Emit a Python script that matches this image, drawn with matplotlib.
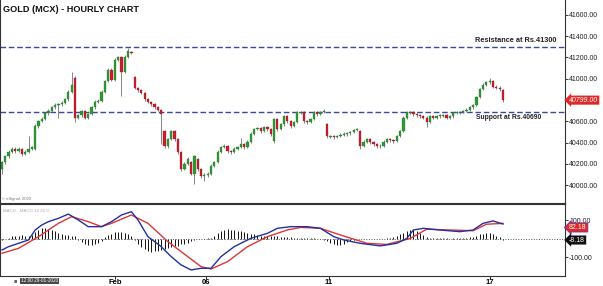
import matplotlib
matplotlib.use("Agg")
import matplotlib.pyplot as plt
import numpy as np

plt.rcParams['font.family'] = ['Liberation Sans', 'DejaVu Sans']

# hourly candles (Rs.)
opens = [40150, 40215, 40270, 40310, 40340, 40320, 40340, 40290, 40310, 40340,
         40340, 40555, 40600, 40620, 40675, 40700, 40730, 40750, 40760, 40775,
         40805, 40880, 41010, 40635, 40655, 40695, 40635, 40665, 40730, 40785,
         40795, 40880, 40975, 41085, 40990, 41180, 41200, 41065, 41205, 41255,
         41020, 40915, 40890, 40870, 40805, 40785, 40760, 40730, 40710, 40505,
         40365, 40430, 40505, 40430, 40310, 40150, 40200, 40215, 40105, 40245,
         40150, 40085, 40095, 40105, 40180, 40215, 40310, 40355, 40365, 40320,
         40310, 40340, 40355, 40385, 40355, 40405, 40480, 40525, 40535, 40505,
         40545, 40525, 40415, 40620, 40525, 40570, 40645, 40600, 40555, 40590,
         40680, 40685, 40600, 40590, 40620, 40685, 40665, 40685, 40570, 40455,
         40460, 40450, 40460, 40470, 40480, 40485, 40495, 40515, 40505, 40365,
         40405, 40430, 40405, 40385, 40370, 40365, 40405, 40430, 40420, 40415,
         40460, 40505, 40635, 40680, 40685, 40665, 40655, 40645, 40635, 40590,
         40645, 40635, 40645, 40650, 40655, 40635, 40645, 40675, 40680, 40685,
         40695, 40710, 40730, 40750, 40825, 40900, 40945, 40965, 40975, 40925,
         40915, 40890]
closes = [40215, 40270, 40310, 40340, 40320, 40340, 40290, 40310, 40340, 40355,
          40555, 40600, 40620, 40675, 40700, 40730, 40750, 40760, 40775, 40805,
          40880, 40945, 40635, 40655, 40695, 40635, 40665, 40730, 40785, 40795,
          40880, 40975, 41085, 40990, 41180, 41200, 41065, 41205, 41265, 41245,
          40915, 40890, 40870, 40805, 40785, 40760, 40730, 40710, 40665, 40365,
          40430, 40505, 40430, 40310, 40150, 40200, 40245, 40105, 40270, 40150,
          40085, 40095, 40105, 40180, 40215, 40310, 40355, 40365, 40320, 40310,
          40340, 40355, 40385, 40355, 40405, 40480, 40525, 40535, 40505, 40545,
          40525, 40480, 40620, 40525, 40570, 40645, 40600, 40555, 40590, 40685,
          40685, 40600, 40590, 40620, 40685, 40665, 40685, 40700, 40460, 40460,
          40450, 40460, 40470, 40480, 40485, 40495, 40515, 40525, 40365, 40405,
          40430, 40405, 40385, 40365, 40365, 40405, 40430, 40420, 40415, 40460,
          40505, 40635, 40685, 40685, 40665, 40655, 40645, 40635, 40590, 40645,
          40635, 40645, 40655, 40655, 40635, 40645, 40675, 40685, 40685, 40695,
          40710, 40730, 40750, 40825, 40900, 40945, 40965, 40975, 40925, 40915,
          40900, 40799]
highs = [40230, 40285, 40325, 40360, 40355, 40355, 40350, 40325, 40460, 40370,
         40570, 40615, 40640, 40690, 40715, 40745, 40770, 40775, 40790, 40820,
         40895, 41065, 41025, 40670, 40710, 40705, 40680, 40745, 40800, 40810,
         40895, 40990, 41100, 41100, 41195, 41215, 41210, 41220, 41290, 41265,
         41030, 40925, 40900, 40880, 40815, 40795, 40770, 40740, 40720, 40520,
         40445, 40520, 40515, 40440, 40320, 40215, 40260, 40230, 40285, 40255,
         40160, 40110, 40120, 40195, 40230, 40325, 40370, 40385, 40375, 40330,
         40355, 40370, 40440, 40395, 40420, 40495, 40540, 40550, 40545, 40560,
         40560, 40535, 40635, 40630, 40585, 40660, 40655, 40610, 40605, 40700,
         40700, 40695, 40615, 40635, 40700, 40695, 40700, 40715, 40580, 40475,
         40470, 40475, 40485, 40495, 40500, 40510, 40530, 40540, 40515, 40420,
         40445, 40440, 40415, 40395, 40385, 40420, 40445, 40440, 40430, 40475,
         40520, 40650, 40700, 40700, 40695, 40675, 40665, 40655, 40645, 40660,
         40655, 40660, 40670, 40670, 40665, 40660, 40690, 40700, 40700, 40710,
         40725, 40745, 40765, 40840, 40915, 40960, 40980, 41010, 40985, 40940,
         40930, 40900]
lows = [40100, 40200, 40255, 40300, 40305, 40310, 40275, 40280, 40300, 40325,
        40330, 40540, 40590, 40610, 40660, 40690, 40720, 40635, 40745, 40765,
        40795, 40870, 40590, 40620, 40640, 40620, 40625, 40655, 40720, 40770,
        40785, 40865, 40965, 40975, 40980, 41165, 40835, 41055, 41195, 41235,
        40900, 40875, 40855, 40790, 40770, 40745, 40715, 40695, 40385, 40350,
        40350, 40420, 40415, 40295, 40135, 40140, 40190, 40090, 40010, 40135,
        40070, 40040, 40080, 40095, 40170, 40205, 40300, 40345, 40300, 40295,
        40300, 40330, 40345, 40340, 40345, 40395, 40470, 40515, 40490, 40495,
        40510, 40465, 40400, 40510, 40515, 40560, 40585, 40540, 40545, 40580,
        40665, 40585, 40575, 40580, 40610, 40650, 40655, 40675, 40440, 40440,
        40430, 40440, 40450, 40460, 40465, 40475, 40485, 40505, 40340, 40355,
        40395, 40390, 40370, 40350, 40350, 40355, 40395, 40405, 40400, 40405,
        40450, 40495, 40625, 40665, 40650, 40640, 40630, 40620, 40545, 40580,
        40620, 40625, 40635, 40640, 40620, 40625, 40635, 40665, 40670, 40675,
        40685, 40700, 40720, 40740, 40815, 40890, 40935, 40955, 40910, 40900,
        40885, 40785]

resistance = 41300
support = 40690
last_price = "40799.00"

# MACD lines, sampled at candle positions
macd_idx = [0, 2, 5, 8, 10, 12, 14, 17, 20, 23, 26, 30, 33, 36, 39, 41, 44, 48,
            51, 54, 57, 60, 63, 66, 70, 75, 80, 83, 87, 92, 96, 100, 103, 108,
            114, 119, 122, 124, 127, 132, 138, 142, 145, 148, 151]
macd_val = [-62, -44, -26, -8, 46, 73, 91, 109, 132, 100, 64, 64, 91, 127, 145,
            100, 10, -44, -98, -143, -170, -161, -161, -98, -44, 1, 28, 55, 64,
            64, 55, 10, -8, -26, -40, -26, 0, 46, 55, 46, 37, 46, 82, 95, 78]
signal_idx = [0, 5, 11, 17, 21, 26, 30, 33, 39, 44, 50, 56, 60, 63, 68, 74, 80,
              86, 90, 96, 102, 110, 116, 123, 128, 135, 142, 146, 151]
signal_val = [-80, -53, 10, 82, 118, 91, 64, 82, 127, 82, -17, -98, -152, -165,
              -125, -44, 10, 46, 60, 55, 19, -26, -32, 0, 50, 46, 42, 77, 82]
hist = [-10, -5, 5,
        12, 15, 16, 17, 16, 15, 18,
        35, 48, 55, 57, 52, 45, 38, 30, 25, 20,
        18, 15, 12,
        -10, -20, -28, -33, -35, -30, -22, -12,
        8, 18, 27, 33, 37, 35, 30, 22, 15,
        -10, -30, -45, -58, -66, -71, -70, -66, -60, -55, -50, -45, -42, -38,
        -32, -28, -22, -16, -10, -5, -3,
        -2, 2, 5,
        15, 28, 40, 48, 50, 48, 45, 42, 38, 34, 30, 26, 22, 18, 15,
        14, 12, 12, 14, 12, 10, 8, 7, 6, 5, 5, 4, 3, 3, 2, 2, 0, -3, -8,
        -15, -25, -32, -35, -33, -28, -20, -12,
        -6, -4, -5, -4, -3, -3, -2, -2, -1, 0, 2, 5,
        8, 14, 22, 32, 40, 45, 46, 40, 30, 18, 8,
        4, 3, 2, 2, 1, 1, 0, 1, 1, 2, 3, 4,
        6, 10, 16, 22, 27, 30, 28, 24, 16, 10, -8]
macd_last = "82.18"
hist_last = "-8.18"

day_labels = ["Feb", "06", "11", "17"]
day_pos = [34, 61.5, 98.5, 147]   # candle index where each session starts

o = np.array(opens); c = np.array(closes)
h = np.array(highs); l = np.array(lows)
x = np.arange(len(o))
up = c >= o

fig = plt.figure(figsize=(6.03, 2.86), dpi=100)
ax = fig.add_axes([0.0, 1 - 203 / 286, 565 / 603, 203 / 286])
am = fig.add_axes([0.0, 10 / 286, 565 / 603, 72 / 286], sharex=ax)

green = "#2f9a35"
red = "#c8202c"

ax.vlines(x, l, h, color="#707070", lw=0.6, zorder=2)
body = np.maximum(np.abs(c - o), 6)
ax.bar(x[up], body[up], bottom=np.minimum(o, c)[up], width=0.68,
       color=green, edgecolor="#1f6a25", lw=0.2, zorder=3)
ax.bar(x[~up], body[~up], bottom=np.minimum(o, c)[~up], width=0.68,
       color=red, edgecolor="#8a1018", lw=0.2, zorder=3)

ax.axhline(resistance, color="#3a45a8", ls=(0, (4, 2)), lw=1.0, zorder=1)
ax.axhline(support, color="#3a45a8", ls=(0, (4, 2)), lw=1.0, zorder=1)

ax.set_xlim(-0.6, 169.7)
ax.set_ylim(39831, 41741)
ax.yaxis.tick_right()
ax.set_yticks([40000, 40200, 40400, 40600, 41000, 41200, 41400, 41600])
ax.set_yticklabels([f"{v:.2f}" for v in ax.get_yticks()])
ax.tick_params(axis="y", labelsize=5, length=2, width=0.6, pad=1, colors="#222222")
ax.tick_params(axis="x", bottom=False, labelbottom=False)
ax.spines["top"].set_visible(False)
for s in ["left", "right", "bottom"]:
    ax.spines[s].set_color("#333333")
    ax.spines[s].set_linewidth(0.8)

ax.text(0.005, 0.955, "GOLD (MCX) - HOURLY CHART", transform=ax.transAxes,
        fontsize=6.6, fontweight="bold", va="center", ha="left", color="#111111")
ax.text(0.985, resistance + 25, "Resistance at Rs.%d" % resistance, fontsize=5.3,
        fontweight="bold", ha="right", va="bottom", color="#222222",
        transform=ax.get_yaxis_transform())
ax.text(0.958, support - 25, "Support at Rs.%d" % support, fontsize=4.9,
        fontweight="bold", ha="right", va="top", color="#222222",
        transform=ax.get_yaxis_transform())
ax.text(0.004, 0.012, "\u00a9 eSignal, 2020", transform=ax.transAxes,
        fontsize=3, color="#777777", ha="left", va="bottom")
ax.annotate(last_price, xy=(1.0, float(last_price)), xycoords=("axes fraction", "data"),
            xytext=(3, 0), textcoords="offset points", fontsize=5, color="white",
            va="center", ha="left", fontstyle="italic",
            bbox=dict(boxstyle="larrow,pad=0.15", fc="#e02828", ec="none"))

# MACD panel
am.vlines(x, 0, hist, color="#111111", lw=0.7)
am.axhline(0, color="#555555", ls=":", lw=0.7)
am.plot(signal_idx, signal_val, color="#e03535", lw=1.0)
am.plot(macd_idx, macd_val, color="#2330a0", lw=1.0)
am.set_ylim(-202.7, 186.5)
am.yaxis.tick_right()
am.set_yticks([100, -100])
am.set_yticklabels(["100.00", "-100.00"])
am.tick_params(axis="y", labelsize=5, length=2, width=0.6, pad=1, colors="#222222")
am.set_xticks(day_pos)
am.set_xticklabels(day_labels, fontsize=5.5, fontweight="bold")
am.tick_params(axis="x", length=2, width=0.6, pad=0.5)
for s in ["left", "right", "bottom", "top"]:
    am.spines[s].set_color("#333333")
    am.spines[s].set_linewidth(0.8)
am.text(0.005, 0.9, "MACD - MACD 12 26 9", transform=am.transAxes,
        fontsize=3.2, color="#aaaaaa", ha="left", va="center")
am.annotate(macd_last, xy=(1.0, float(macd_last)), xycoords=("axes fraction", "data"),
            xytext=(3, -3), textcoords="offset points", fontsize=5, color="white",
            va="center", ha="left",
            bbox=dict(boxstyle="larrow,pad=0.15", fc="#e02828", ec="#6a3aa0", lw=0.6))
am.annotate(hist_last, xy=(1.0, float(hist_last)), xycoords=("axes fraction", "data"),
            xytext=(3, 0), textcoords="offset points", fontsize=5, color="white",
            va="center", ha="left",
            bbox=dict(boxstyle="larrow,pad=0.15", fc="#111111", ec="none"))

fig.text(14 / 603, 5 / 286, "\u25a0", fontsize=4, color="#666666", va="center")
fig.text(21 / 603, 5 / 286, "12:00 29-01-2020", fontsize=3.4, color="white",
         va="center", ha="left",
         bbox=dict(boxstyle="square,pad=0.2", fc="#4a4a4a", ec="none"))

fig.savefig("out.png", dpi=100)
